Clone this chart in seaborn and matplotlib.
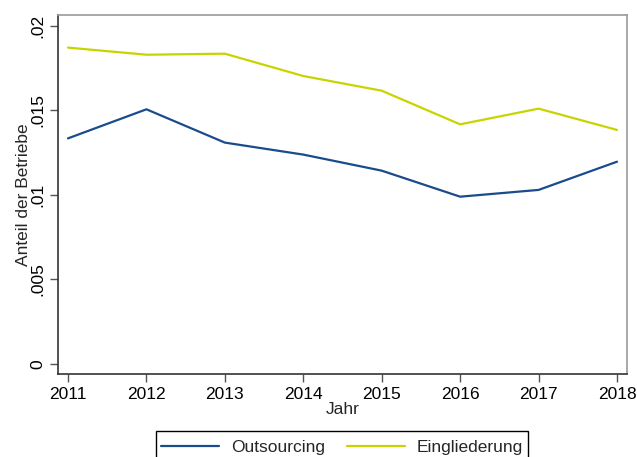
import numpy as np
import pandas as pd
import matplotlib
matplotlib.use('Agg')
import matplotlib.pyplot as plt
import matplotlib.patches as mpatches
import seaborn as sns

# Daten
jahre = [2011, 2012, 2013, 2014, 2015, 2016, 2017, 2018]
outsourcing = [0.01335, 0.01507, 0.01310, 0.01239, 0.01144, 0.00990, 0.01030, 0.01197]
eingliederung = [0.01872, 0.01830, 0.01836, 0.01704, 0.01617, 0.01418, 0.01511, 0.01385]
y_ticks = [0, 0.005, 0.01, 0.015, 0.02]
y_ticklabels = ['0', '.005', '.01', '.015', '.02']

df = pd.DataFrame({'Jahr': jahre * 2,
                   'Anteil': outsourcing + eingliederung,
                   'Art': ['Outsourcing'] * len(jahre) + ['Eingliederung'] * len(jahre)})

sns.set_theme(style='white')
plt.rcParams['font.family'] = ['Liberation Sans', 'DejaVu Sans']
FS = 12.5

fig = plt.figure(figsize=(6.37, 4.57), dpi=100)
ax = fig.add_axes([0.0911, 0.1816, 0.8932, 0.7856])

palette = {'Outsourcing': '#1a4c8c', 'Eingliederung': '#c8d400'}
sns.lineplot(data=df, x='Jahr', y='Anteil', hue='Art', palette=palette,
             linewidth=1.6, ax=ax, legend=False)

ax.set_xlim(2010.873, 2018.1275)
ax.set_ylim(-0.000592, 0.02065)
ax.set_xticks(jahre)
ax.set_xticklabels([str(j) for j in jahre], fontsize=FS)
ax.set_yticks(y_ticks)
ax.set_yticklabels(y_ticklabels, fontsize=FS, rotation=90, va='center')
ax.tick_params(axis='both', direction='out', length=6, width=1, color='#555555',
               pad=3, left=True, bottom=True, labelcolor='black')
ax.set_xlabel('Jahr', fontsize=FS, labelpad=0)
ax.set_ylabel('Anteil der Betriebe', fontsize=FS, labelpad=0)

for s in ['left', 'bottom']:
    ax.spines[s].set_color('#333333')
    ax.spines[s].set_linewidth(1.2)
for s in ['top', 'right']:
    ax.spines[s].set_color('#999999')
    ax.spines[s].set_linewidth(1.2)

# Legende ohne eigenen Rahmen; Rahmen unten abgeschnitten wie im Original
handles = [plt.Line2D([], [], color=palette[k], linewidth=1.6) for k in palette]
leg = fig.legend(handles, list(palette.keys()), loc='upper center',
                 bbox_to_anchor=(0.537, 0.0481), ncol=2, fontsize=FS,
                 frameon=False, handlelength=3.3, handletextpad=0.7,
                 columnspacing=1.3, borderpad=0.3, borderaxespad=0)

fig.canvas.draw()
bb = leg.get_window_extent().transformed(fig.transFigure.inverted())
rahmen = mpatches.Rectangle((bb.x0, -0.05), bb.width, 0.0569 + 0.05,
                            transform=fig.transFigure, fill=False,
                            edgecolor='black', linewidth=1)
fig.patches.append(rahmen)

fig.savefig('out.png', dpi=100)
